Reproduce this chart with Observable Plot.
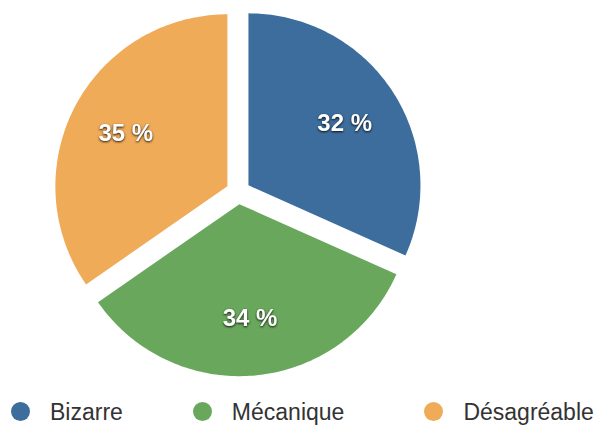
<!DOCTYPE html>
<html>
<head>
<meta charset="utf-8">
<script src="https://cdn.jsdelivr.net/npm/d3@7"></script>
<script src="https://cdn.jsdelivr.net/npm/@observablehq/plot@0.6"></script>
<style>
  html, body { margin: 0; padding: 0; background: #fff; width: 599px; height: 428px; overflow: hidden; }
  #chart svg { display: block; }
  #chart g[aria-label="text"] text { filter: drop-shadow(0px 1px 1px rgba(0,0,0,0.85)); }
  .legend { display: flex; align-items: center; height: 26px; margin-top: 3px; padding-left: 11px;
            font-family: "Liberation Sans", Arial, Helvetica, sans-serif; font-size: 23px; color: #333; line-height: 26px; }
  .item { display: flex; align-items: center; }
  .dot { width: 19px; height: 19px; border-radius: 50%; margin-right: 20px; position: relative; top: -1px; }
</style>
</head>
<body>
<div id="chart"></div>
<div class="legend" id="legend"></div>
<script>
const categories = ["Bizarre", "Mécanique", "Désagréable"];
const values = [32, 34, 35];
const labels = ["32 %", "34 %", "35 %"];
const colors = ["#3d6d9c", "#69a85c", "#efab58"];

const explode = 0.071;
const labelRadius = 0.738;

const arcs = d3.pie().sort(null).startAngle(0).endAngle(2 * Math.PI)(values);

const slicePoints = [];
const labelPoints = [];
arcs.forEach((a, i) => {
  const mid = (a.startAngle + a.endAngle) / 2;
  const ox = explode * Math.sin(mid), oy = explode * Math.cos(mid);
  slicePoints.push({name: categories[i], x: ox, y: oy});
  const n = 120;
  for (let k = 0; k <= n; k++) {
    const t = a.startAngle + (a.endAngle - a.startAngle) * k / n;
    slicePoints.push({name: categories[i], x: ox + Math.sin(t), y: oy + Math.cos(t)});
  }
  slicePoints.push({name: categories[i], x: ox, y: oy});
  labelPoints.push({label: labels[i], x: labelRadius * Math.sin(mid), y: labelRadius * Math.cos(mid)});
});

const chart = Plot.plot({
  width: 599,
  height: 396,
  marginLeft: 65.7,
  marginRight: 189.3,
  marginTop: 19.5,
  marginBottom: 32.5,
  x: {domain: [-1, 1], axis: null},
  y: {domain: [-1, 1], axis: null},
  color: {domain: categories, range: colors},
  style: {background: "#fff", overflow: "visible"},
  marks: [
    Plot.line(slicePoints, {x: "x", y: "y", z: "name", fill: "name", stroke: "none", curve: "linear"}),
    Plot.text(labelPoints, {x: "x", y: "y", text: "label", fill: "#fff", fontSize: 24, fontWeight: "bold",
      fontFamily: "Liberation Sans, Arial, Helvetica, sans-serif"})
  ]
});
document.getElementById("chart").appendChild(chart);

const legend = document.getElementById("legend");
const gaps = [0, 70, 80];
categories.forEach((c, i) => {
  const item = document.createElement("div");
  item.className = "item";
  item.style.marginLeft = gaps[i] + "px";
  const dot = document.createElement("span");
  dot.className = "dot";
  dot.style.background = colors[i];
  const lab = document.createElement("span");
  lab.textContent = c;
  item.appendChild(dot);
  item.appendChild(lab);
  legend.appendChild(item);
});
</script>
</body>
</html>
